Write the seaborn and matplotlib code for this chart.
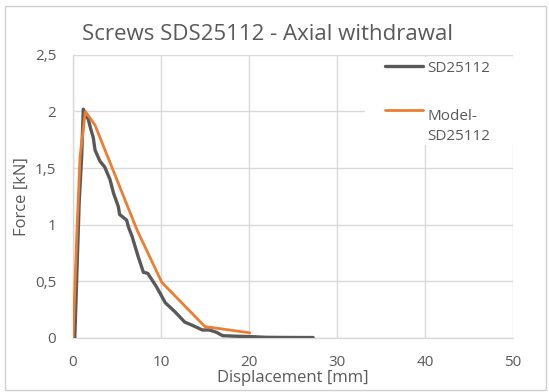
import matplotlib
matplotlib.use("Agg")
import matplotlib.pyplot as plt
import seaborn as sns
import pandas as pd
from matplotlib.patches import Rectangle
from matplotlib.lines import Line2D
from matplotlib.legend_handler import HandlerLine2D

# Experimental curve SD25112
exp_x = [0.2, 0.45, 0.7, 0.98, 1.17, 1.4, 1.74, 2.0, 2.3, 2.5, 3.07, 3.6, 4.2, 4.6, 5.15, 5.3,
         6.1, 6.3, 6.7, 7.4, 8.0, 8.5, 9.5, 10.5, 11.6, 12.7, 13.6, 14.7, 15.5, 16.3, 17.0,
         18.5, 20.0, 22.0, 24.0, 27.3]
exp_y = [0.0, 0.6, 1.2, 1.6, 2.02, 1.98, 1.93, 1.85, 1.77, 1.66, 1.56, 1.51, 1.4, 1.28, 1.16,
         1.09, 1.04, 0.98, 0.9, 0.72, 0.58, 0.57, 0.45, 0.31, 0.23, 0.14, 0.11, 0.07, 0.07,
         0.05, 0.02, 0.015, 0.012, 0.005, 0.004, 0.003]

# Model curve Model-SD25112
mod_x = [0.0, 0.45, 0.8, 1.4, 2.5, 7.3, 10.1, 15.0, 20.1]
mod_y = [0.0, 0.95, 1.6, 2.0, 1.88, 0.95, 0.49, 0.1, 0.045]

title = "Screws SDS25112 - Axial withdrawal"
xlabel = "Displacement [mm]"
ylabel = "Force [kN]"
xticks = [0, 10, 20, 30, 40, 50]
yticks = [0, 0.5, 1, 1.5, 2, 2.5]
ytick_labels = ["0", "0,5", "1", "1,5", "2", "2,5"]

sns.set_style("white")
plt.rcParams['font.family'] = ['Open Sans', 'DejaVu Sans']

text_col = "#595959"
grid_col = "#d9d9d9"


class OffsetLine(HandlerLine2D):
    def __init__(self, dy=0.0, **kw):
        super().__init__(**kw)
        self.dy = dy

    def create_artists(self, legend, orig_handle, xdescent, ydescent, width, height,
                       fontsize, trans):
        artists = super().create_artists(legend, orig_handle, xdescent, ydescent, width,
                                         height, fontsize, trans)
        for a in artists:
            if isinstance(a, Line2D):
                a.set_ydata([y + self.dy for y in a.get_ydata()])
        return artists


fig = plt.figure(figsize=(5.49, 3.92), dpi=100)
ax = fig.add_axes([0.133, 0.138, 0.801, 0.722])

df_exp = pd.DataFrame({"x": exp_x, "y": exp_y})
df_mod = pd.DataFrame({"x": mod_x, "y": mod_y})
sns.lineplot(data=df_exp, x="x", y="y", ax=ax, color="#595959", lw=2.4,
             estimator=None, sort=False, label="SD25112", zorder=3)
sns.lineplot(data=df_mod, x="x", y="y", ax=ax, color="#ED7D31", lw=2.0,
             estimator=None, sort=False, label="Model-\nSD25112", zorder=4)

ax.set_xlim(0, 50)
ax.set_ylim(0, 2.5)
ax.set_xticks(xticks)
ax.set_yticks(yticks)
ax.set_yticklabels(ytick_labels)
ax.grid(True, color=grid_col, lw=1, zorder=0)
ax.set_axisbelow(True)
for s in ["top", "right"]:
    ax.spines[s].set_visible(False)
for s in ["left", "bottom"]:
    ax.spines[s].set_color(grid_col)
    ax.spines[s].set_linewidth(1)
ax.tick_params(length=0, labelsize=11, colors=text_col)
ax.tick_params(axis="y", pad=12)
ax.tick_params(axis="x", pad=12)

fig.text(0.488, 0.898, title, fontsize=16, color=text_col, ha="center", va="baseline")
ax.set_xlabel(xlabel, fontsize=12, color=text_col, labelpad=0)
ax.set_ylabel(ylabel, fontsize=12, color=text_col, labelpad=4)

# white legend area covering the grid
ax.add_patch(Rectangle((0.664, 0.682), 0.345, 0.311, transform=ax.transAxes,
                       facecolor="white", edgecolor="none", zorder=2, clip_on=False))

handles, labels = ax.get_legend_handles_labels()
leg = ax.legend(handles, labels, loc="upper left", bbox_to_anchor=(0.702, 0.99),
                frameon=False, fontsize=11, labelspacing=2.2, handlelength=2.5,
                handletextpad=0.3, borderpad=0.2, borderaxespad=0,
                handler_map={handles[0]: OffsetLine(0.0), handles[1]: OffsetLine(12.4)})
for t in leg.get_texts():
    t.set_color(text_col)
    t.set_linespacing(1.45)

fig.patches.append(Rectangle((0.009, 0.005), 0.985, 0.98, transform=fig.transFigure,
                             fill=False, edgecolor="#d0d0d0", lw=1))

fig.savefig("out.png", dpi=100)
